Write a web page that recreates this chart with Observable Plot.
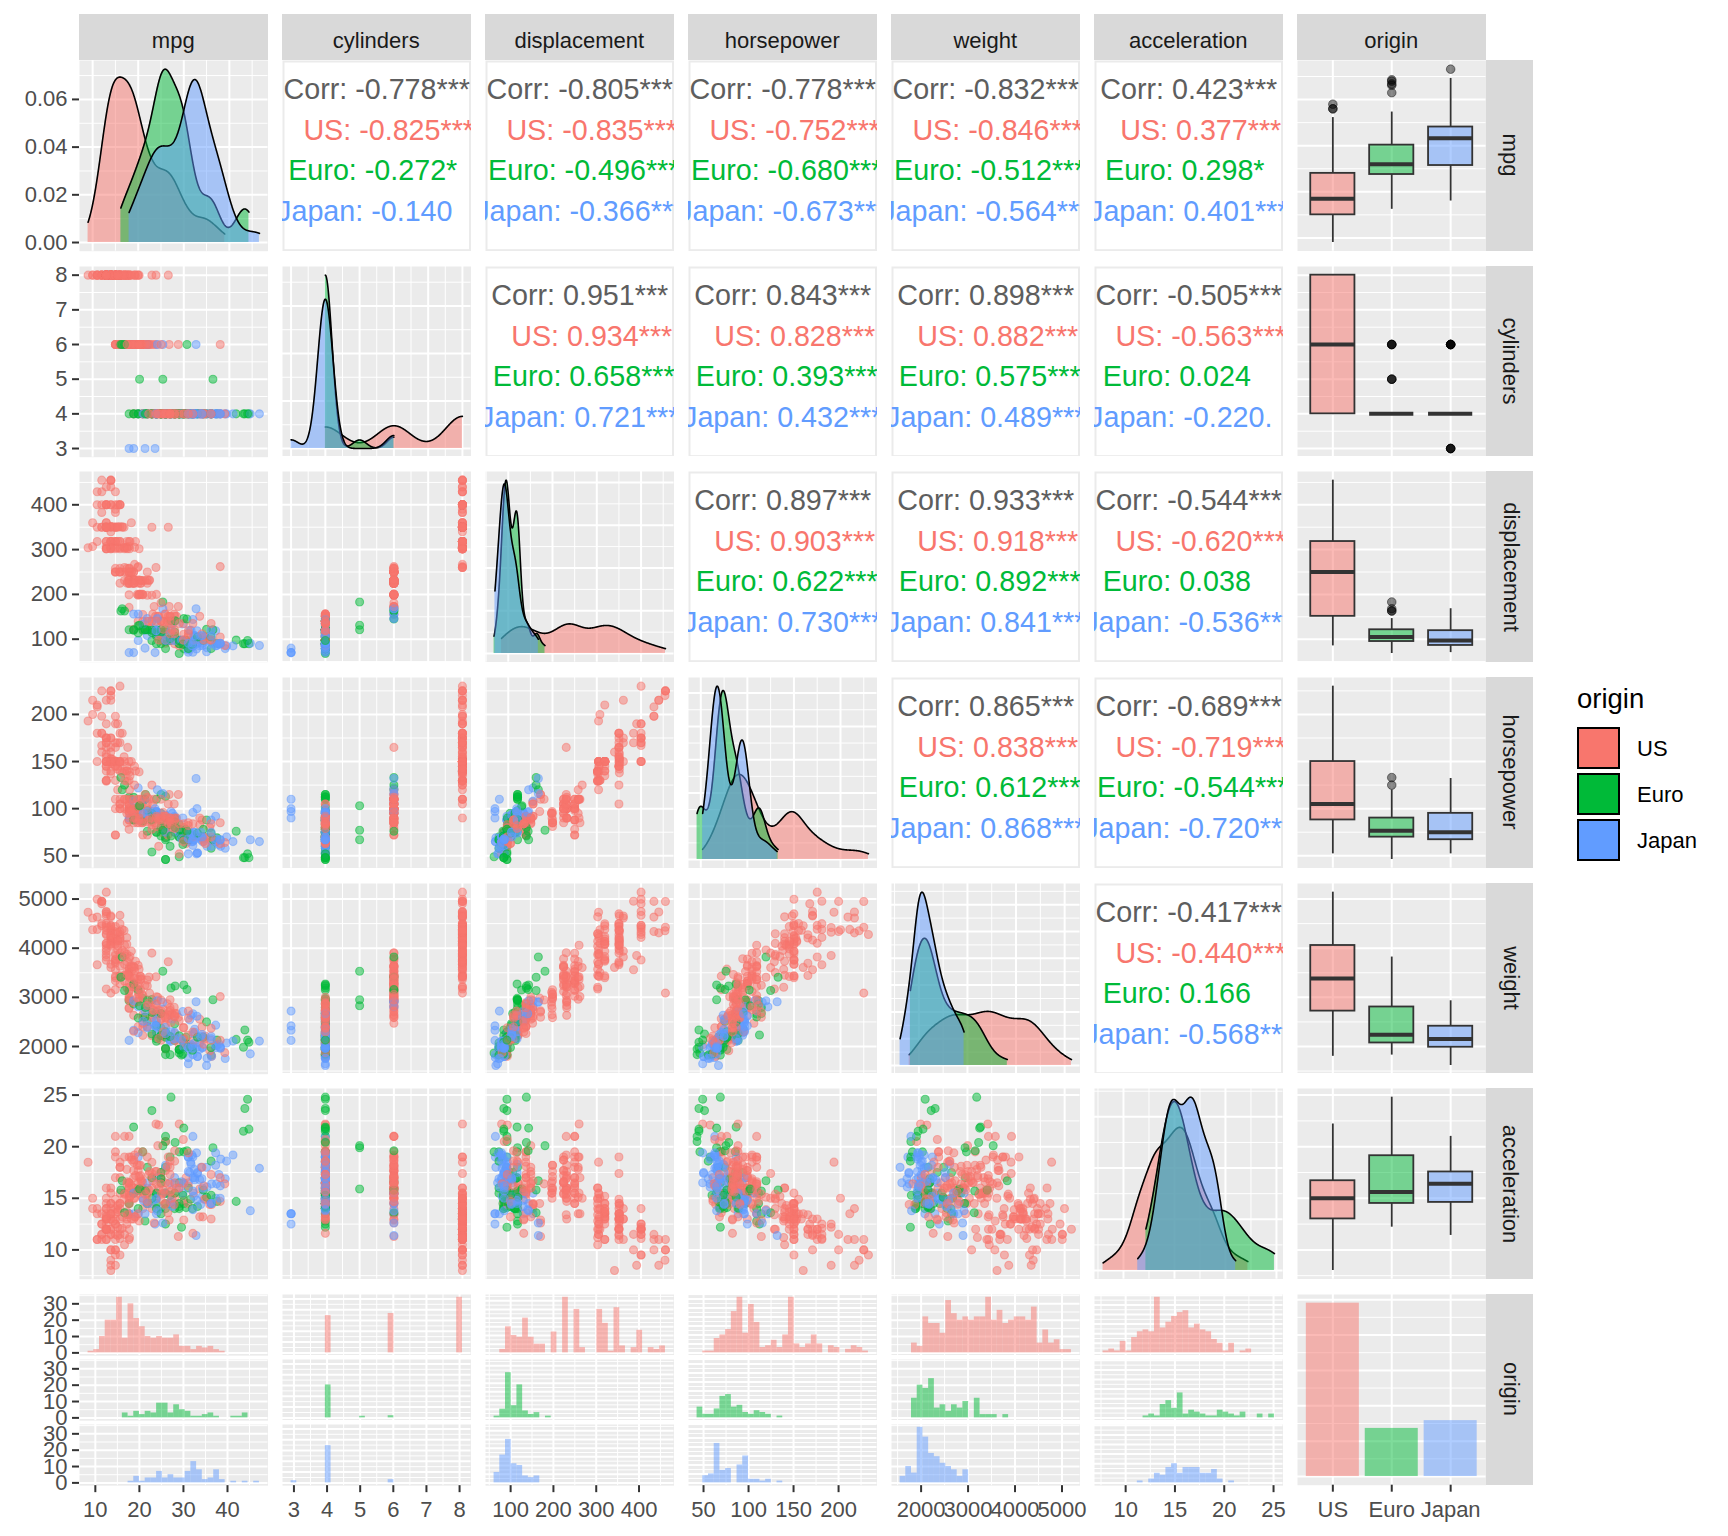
<!DOCTYPE html>
<html><head><meta charset="utf-8">
<script src="https://cdn.jsdelivr.net/npm/d3@7"></script>
<script src="https://cdn.jsdelivr.net/npm/@observablehq/plot@0.6"></script>
<style>
body{margin:0;background:#fff;font-family:'Liberation Sans',Arial,Helvetica,sans-serif;}
#chart{position:relative;width:1728px;height:1536px;overflow:hidden;}
.strip{position:absolute;background:#D9D9D9;color:#1A1A1A;font-size:22px;display:flex;align-items:center;justify-content:center;white-space:nowrap;box-sizing:border-box;}
.hstrip{padding-top:7px;}
.vstrip{padding-left:3px;}
.vstrip span{display:inline-block;transform:rotate(90deg);}
</style></head><body><div id="chart"></div>
<script>
// ---- data: [mpg, cylinders, displacement, horsepower, weight, acceleration, origin(1=US,2=Euro,3=Japan)] ----
const year70 = [[18,8,307,130,3504,12,1],[15,8,350,165,3693,11.5,1],[18,8,318,150,3436,11,1],[16,8,304,150,3433,12,1],[17,8,302,140,3449,10.5,1],[15,8,429,198,4341,10,1],[14,8,454,220,4354,9,1],[14,8,440,215,4312,8.5,1],[14,8,455,225,4425,10,1],[15,8,390,190,3850,8.5,1],[15,8,383,170,3563,10,1],[14,8,340,160,3609,8,1],[15,8,400,150,3761,9.5,1],[14,8,455,225,3086,10,1],[24,4,113,95,2372,15,3],[22,6,198,95,2833,15.5,1],[18,6,199,97,2774,15.5,1],[21,6,200,85,2587,16,1],[27,4,97,88,2130,14.5,3],[26,4,97,46,1835,20.5,2],[25,4,110,87,2672,17.5,2],[24,4,107,90,2430,14.5,2],[25,4,104,95,2375,17.5,2],[26,4,121,113,2234,12.5,2],[21,6,199,90,2648,15,1],[10,8,360,215,4615,14,1],[10,8,307,200,4376,15,1],[11,8,318,210,4382,13.5,1],[9,8,304,193,4732,18.5,1]];
const year71 = [[27,4,97,88,2130,14.5,3],[28,4,140,90,2264,15.5,1],[25,4,113,95,2228,14,3],[19,6,232,100,2634,13,1],[16,6,225,105,3439,15.5,1],[17,6,250,100,3329,15.5,1],[19,6,250,88,3302,15.5,1],[18,6,232,100,3288,15.5,1],[14,8,350,165,4209,12,1],[14,8,400,175,4464,11.5,1],[14,8,351,153,4154,13.5,1],[14,8,318,150,4096,13,1],[12,8,383,180,4955,11.5,1],[13,8,400,170,4746,12,1],[13,8,400,175,5140,12,1],[18,6,258,110,2962,13.5,1],[22,4,140,72,2408,19,1],[19,6,250,100,3282,15,1],[18,6,250,88,3139,14.5,1],[23,4,122,86,2220,14,1],[28,4,116,90,2123,14,2],[30,4,79,70,2074,19.5,2],[30,4,88,76,2065,14.5,2],[31,4,71,65,1773,19,3],[35,4,72,69,1613,18,3],[27,4,97,60,1834,19,2],[26,4,91,70,1955,20.5,1]];
const year72 = [[24,4,113,95,2278,15.5,3],[25,4,97.5,80,2126,17,1],[23,4,97,54,2254,23.5,2],[20,4,140,90,2408,19.5,1],[21,4,122,86,2226,16.5,1],[13,8,350,165,4274,12,1],[14,8,400,175,4385,12,1],[15,8,318,150,4135,13.5,1],[14,8,351,153,4129,13,1],[17,8,304,150,3672,11.5,1],[11,8,429,208,4633,11,1],[13,8,350,155,4502,13.5,1],[12,8,350,160,4456,13.5,1],[13,8,400,190,4422,12.5,1],[19,3,70,97,2330,13.5,3],[15,8,304,150,3892,12.5,1],[13,8,307,130,4098,14,1],[13,8,302,140,4294,16,1],[14,8,318,150,4077,14,1],[18,4,121,112,2933,14.5,2],[22,4,121,76,2511,18,2],[21,4,120,87,2979,19.5,2],[26,4,96,69,2189,18,2],[22,4,122,86,2395,16,1],[28,4,97,92,2288,17,3],[23,4,120,97,2506,14.5,3],[28,4,98,80,2164,15,1],[27,4,97,88,2100,16.5,3]];
const year73 = [[13,8,350,175,4100,13,1],[14,8,304,150,3672,11.5,1],[13,8,350,145,3988,13,1],[14,8,302,137,4042,14.5,1],[15,8,318,150,3777,12.5,1],[12,8,429,198,4952,11.5,1],[13,8,400,150,4464,12,1],[13,8,351,158,4363,13,1],[14,8,318,150,4237,14.5,1],[13,8,440,215,4735,11,1],[12,8,455,225,4951,11,1],[13,8,360,175,3821,11,1],[18,6,225,105,3121,16.5,1],[16,6,250,100,3278,18,1],[18,6,232,100,2945,16,1],[18,6,250,88,3021,16.5,1],[23,6,198,95,2904,16,1],[26,4,97,46,1950,21,2],[11,8,400,150,4997,14,1],[12,8,400,167,4906,12.5,1],[13,8,360,170,4654,13,1],[12,8,350,180,4499,12.5,1],[18,6,232,100,2789,15,1],[20,4,97,88,2279,19,3],[21,4,140,72,2401,19.5,1],[22,4,108,94,2379,16.5,3],[18,3,70,90,2124,13.5,3],[19,4,122,85,2310,18.5,1],[21,6,155,107,2472,14,1],[26,4,98,90,2265,15.5,2],[15,8,350,145,4082,13,1],[16,8,400,230,4278,9.5,1],[29,4,68,49,1867,19.5,2],[24,4,116,75,2158,15.5,2],[20,4,114,91,2582,14,2],[19,4,121,112,2868,15.5,2],[15,8,318,150,3399,11,1],[24,4,121,110,2660,14,2],[20,6,156,122,2807,13.5,3],[11,8,350,180,3664,11,1]];
const year74 = [[20,6,198,95,3102,16.5,1],[19,6,232,100,2901,16,1],[15,6,250,100,3336,17,1],[31,4,79,67,1950,19,3],[26,4,122,80,2451,16.5,1],[32,4,71,65,1836,21,3],[25,4,140,75,2542,17,1],[16,6,250,100,3781,17,1],[16,6,258,110,3632,18,1],[18,6,225,105,3613,16.5,1],[16,8,302,140,4141,14,1],[13,8,350,150,4699,14.5,1],[14,8,318,150,4457,13.5,1],[14,8,302,140,4638,16,1],[14,8,304,150,4257,15.5,1],[29,4,98,83,2219,16.5,2],[26,4,79,67,1963,15.5,2],[26,4,97,78,2300,14.5,2],[31,4,76,52,1649,16.5,3],[32,4,83,61,2003,19,3],[28,4,90,75,2125,14.5,1],[24,4,90,75,2108,15.5,2],[26,4,116,75,2246,14,2],[24,4,120,97,2489,15,3],[26,4,108,93,2391,15.5,3],[31,4,79,67,2000,16,2]];
const year75 = [[19,6,225,95,3264,16,1],[18,6,250,105,3459,16,1],[15,6,250,72,3432,21,1],[15,6,250,72,3158,19.5,1],[16,8,400,170,4668,11.5,1],[15,8,350,145,4440,14,1],[16,8,318,150,4498,14.5,1],[14,8,351,148,4657,13.5,1],[17,6,231,110,3907,21,1],[16,6,250,105,3897,18.5,1],[15,6,258,110,3730,19,1],[18,6,225,95,3785,19,1],[21,6,231,110,3039,15,1],[20,8,262,110,3221,13.5,1],[13,8,302,129,3169,12,1],[29,4,97,75,2171,16,3],[23,4,140,83,2639,17,1],[20,6,232,100,2914,16,1],[23,4,140,78,2592,18.5,1],[24,4,134,96,2702,13.5,3],[25,4,90,71,2223,16.5,2],[24,4,119,97,2545,17,3],[18,6,171,97,2984,14.5,1],[29,4,90,70,1937,14,2],[19,6,232,90,3211,17,1],[23,4,115,95,2694,15,2],[23,4,120,88,2957,17,2],[22,4,121,98,2945,14.5,2],[25,4,121,115,2671,13.5,2],[33,4,91,53,1795,17.5,3]];
const year76 = [[28,4,107,86,2464,15.5,2],[25,4,116,81,2220,16.9,2],[25,4,140,92,2572,14.9,1],[26,4,98,79,2255,17.7,1],[27,4,101,83,2202,15.3,2],[17.5,8,305,140,4215,13,1],[16,8,318,150,4190,13,1],[15.5,8,304,120,3962,13.9,1],[14.5,8,351,152,4215,12.8,1],[22,6,225,100,3233,15.4,1],[22,6,250,105,3353,14.5,1],[24,6,200,81,3012,17.6,1],[22.5,6,232,90,3085,17.6,1],[29,4,85,52,2035,22.2,1],[24.5,4,98,60,2164,22.1,1],[29,4,90,70,1937,14.2,2],[33,4,91,53,1795,17.4,3],[20,6,225,100,3651,17.7,1],[18,6,250,78,3574,21,1],[18.5,6,250,110,3645,16.2,1],[17.5,6,258,95,3193,17.8,1],[29.5,4,97,71,1825,12.2,2],[32,4,85,70,1990,17,3],[28,4,97,75,2155,16.4,3],[26.5,4,140,72,2565,13.6,1],[20,4,130,102,3150,15.7,2],[13,8,318,150,3940,13.2,1],[19,4,120,88,3270,21.9,2],[19,6,156,108,2930,15.5,3],[16.5,6,168,120,3820,16.7,2],[16.5,8,350,180,4380,12.1,1],[13,8,350,145,4055,12,1],[13,8,302,130,3870,15,1],[13,8,318,150,3755,14,1]];
const year77 = [[31.5,4,98,68,2045,18.5,3],[30,4,111,80,2155,14.8,1],[36,4,79,58,1825,18.6,2],[25.5,4,122,96,2300,15.5,1],[33.5,4,85,70,1945,16.8,3],[17.5,8,305,145,3880,12.5,1],[17,8,260,110,4060,19,1],[15.5,8,318,145,4140,13.7,1],[15,8,302,130,4295,14.9,1],[17.5,6,250,110,3520,16.4,1],[20.5,6,231,105,3425,16.9,1],[19,6,225,100,3630,17.7,1],[18.5,6,250,98,3525,19,1],[16,8,400,180,4220,11.1,1],[15.5,8,350,170,4165,11.4,1],[15.5,8,400,190,4325,12.2,1],[16,8,351,149,4335,14.5,1],[29,4,97,78,1940,14.5,2],[24.5,4,151,88,2740,16,1],[26,4,97,75,2265,18.2,3],[25.5,4,140,89,2755,15.8,1],[30.5,4,98,63,2051,17,1],[33.5,4,98,83,2075,15.9,1],[30,4,97,67,1985,16.4,3],[30.5,4,97,78,2190,14.1,2],[22,6,146,97,2815,14.5,3],[21.5,4,121,110,2600,12.8,2],[21.5,3,80,110,2720,13.5,3]];
const year78 = [[43.1,4,90,48,1985,21.5,2],[36.1,4,98,66,1800,14.4,1],[32.8,4,78,52,1985,19.4,3],[39.4,4,85,70,2070,18.6,3],[36.1,4,91,60,1800,16.4,3],[19.9,8,260,110,3365,15.5,1],[19.4,8,318,140,3735,13.2,1],[20.2,8,302,139,3570,12.8,1],[19.2,6,231,105,3535,19.2,1],[20.5,6,200,95,3155,18.2,1],[20.2,6,200,85,2965,15.8,1],[25.1,4,140,88,2720,15.4,1],[20.5,6,225,100,3430,17.2,1],[19.4,6,232,90,3210,17.2,1],[20.6,6,231,105,3380,15.8,1],[20.8,6,200,85,3070,16.7,1],[18.6,6,225,110,3620,18.7,1],[18.1,6,258,120,3410,15.1,1],[19.2,8,305,145,3425,13.2,1],[17.7,6,231,165,3445,13.4,1],[18.1,8,302,139,3205,11.2,1],[17.5,8,318,140,4080,13.7,1],[30,4,98,68,2155,16.5,1],[27.5,4,134,95,2560,14.2,3],[27.2,4,119,97,2300,14.7,3],[30.9,4,105,75,2230,14.5,1],[21.1,4,134,95,2515,14.8,3],[23.2,4,156,105,2745,16.7,1],[23.8,4,151,85,2855,17.6,1],[23.9,4,119,97,2405,14.9,3],[20.3,5,131,103,2830,15.9,2],[17,6,163,125,3140,13.6,2],[21.6,4,121,115,2795,15.7,2],[16.2,6,163,133,3410,15.8,2],[31.5,4,89,71,1990,14.9,2],[29.5,4,98,68,2135,16.6,3]];
const year79 = [[21.5,6,231,115,3245,15.4,1],[19.8,6,200,85,2990,18.2,1],[22.3,4,140,88,2890,17.3,1],[20.2,6,232,90,3265,18.2,1],[20.6,6,225,110,3360,16.6,1],[17,8,305,130,3840,15.4,1],[17.6,8,302,129,3725,13.4,1],[16.5,8,351,138,3955,13.2,1],[18.2,8,318,135,3830,15.2,1],[16.9,8,350,155,4360,14.9,1],[15.5,8,351,142,4054,14.3,1],[19.2,8,267,125,3605,15,1],[18.5,8,360,150,3940,13,1],[31.9,4,89,71,1925,14,2],[34.1,4,86,65,1975,15.2,3],[35.7,4,98,80,1915,14.4,1],[27.4,4,121,80,2670,15,1],[25.4,5,183,77,3530,20.1,2],[23,8,350,125,3900,17.4,1],[27.2,4,141,71,3190,24.8,2],[23.9,8,260,90,3420,22.2,1],[34.2,4,105,70,2200,13.2,1],[34.5,4,105,70,2150,14.9,1],[31.8,4,85,65,2020,19.2,3],[37.3,4,91,69,2130,14.7,2],[28.4,4,151,90,2670,16,1],[28.8,6,173,115,2595,11.3,1],[26.8,6,173,115,2700,12.9,1],[33.5,4,151,90,2556,13.2,1]];
const year80 = [[41.5,4,98,76,2144,14.7,2],[38.1,4,89,60,1968,18.8,3],[32.1,4,98,70,2120,15.5,1],[37.2,4,86,65,2019,16.4,3],[28,4,151,90,2678,16.5,1],[26.4,4,140,88,2870,18.1,1],[24.3,4,151,90,3003,20.1,1],[19.1,6,225,90,3381,18.7,1],[34.3,4,97,78,2188,15.8,2],[29.8,4,134,90,2711,15.5,3],[31.3,4,120,75,2542,17.5,3],[37,4,119,92,2434,15,3],[32.2,4,108,75,2265,15.2,3],[46.6,4,86,65,2110,17.9,3],[27.9,4,156,105,2800,14.4,1],[40.8,4,85,65,2110,19.2,3],[44.3,4,90,48,2085,21.7,2],[43.4,4,90,48,2335,23.7,2],[36.4,5,121,67,2950,19.9,2],[30,4,146,67,3250,21.8,2],[44.6,4,91,67,1850,13.8,3],[33.8,4,97,67,2145,18,3],[29.8,4,89,62,1845,15.3,2],[32.7,6,168,132,2910,11.4,3],[23.7,3,70,100,2420,12.5,3],[35,4,122,88,2500,15.1,2],[32.4,4,107,72,2290,17,3]];
const year81 = [[27.2,4,135,84,2490,15.7,1],[26.6,4,151,84,2635,16.4,1],[25.8,4,156,92,2620,14.4,1],[23.5,6,173,110,2725,12.6,1],[30,4,135,84,2385,12.9,1],[39.1,4,79,58,1755,16.9,3],[39,4,86,64,1875,16.4,1],[35.1,4,81,60,1760,16.1,3],[32.3,4,97,67,2065,17.8,3],[37,4,85,65,1975,19.4,3],[37.7,4,89,62,2050,17.3,3],[34.1,4,91,68,1985,16,3],[34.7,4,105,63,2215,14.9,1],[34.4,4,98,65,2045,16.2,1],[29.9,4,98,65,2380,20.7,1],[33,4,105,74,2190,14.2,2],[33.7,4,107,75,2210,14.4,3],[32.4,4,108,75,2350,16.8,3],[32.9,4,119,100,2615,14.8,3],[31.6,4,120,74,2635,18.3,3],[28.1,4,141,80,3230,20.4,2],[30.7,6,145,76,3160,19.6,2],[25.4,6,168,116,2900,12.6,3],[24.2,6,146,120,2930,13.8,3],[22.4,6,231,110,3415,15.8,1],[26.6,8,350,105,3725,19,1],[20.2,6,200,88,3060,17.1,1],[17.6,6,225,85,3465,16.6,1]];
const year82 = [[28,4,112,88,2605,19.6,1],[27,4,112,88,2640,18.6,1],[34,4,112,88,2395,18,1],[31,4,112,85,2575,16.2,1],[29,4,135,84,2525,16,1],[27,4,151,90,2735,18,1],[24,4,140,92,2865,16.4,1],[36,4,105,74,1980,15.3,2],[37,4,91,68,2025,18.2,3],[31,4,91,68,1970,17.6,3],[38,4,105,63,2125,14.7,1],[36,4,98,70,2125,17.3,1],[36,4,120,88,2160,14.5,3],[36,4,107,75,2205,14.5,3],[34,4,108,70,2245,16.9,3],[38,4,91,67,1965,15,3],[32,4,91,67,1965,15.7,3],[38,4,91,67,1995,16.2,3],[25,6,181,110,2945,16.4,1],[38,6,262,85,3015,17,1],[26,4,156,92,2585,14.5,1],[22,6,232,112,2835,14.7,1],[32,4,144,96,2665,13.9,3],[36,4,135,84,2370,13,1],[27,4,151,90,2950,17.3,1],[27,4,140,86,2790,15.6,1],[44,4,97,52,2130,24.6,2],[32,4,135,84,2295,11.6,1],[28,4,120,79,2625,18.6,1],[31,4,119,82,2720,19.4,1]];

const origins = ["US", "Euro", "Japan"];
const colors = ["#F8766D", "#00BA38", "#619CFF"];
const varNames = ["mpg", "cylinders", "displacement", "horsepower", "weight", "acceleration", "origin"];
const tickMpg = [10, 20, 30, 40];
const tickCylinders = [3, 4, 5, 6, 7, 8];
const tickDisplacement = [100, 200, 300, 400];
const tickHorsepower = [50, 100, 150, 200];
const tickWeight = [2000, 3000, 4000, 5000];
const tickAcceleration = [10, 15, 20, 25];

// correlation texts (upper triangle)
const corrPairs = [[0,1],[0,2],[0,3],[0,4],[0,5],[1,2],[1,3],[1,4],[1,5],[2,3],[2,4],[2,5],[3,4],[3,5],[4,5]];
const corrAll   = ["-0.778***","-0.805***","-0.778***","-0.832***","0.423***","0.951***","0.843***","0.898***","-0.505***","0.897***","0.933***","-0.544***","0.865***","-0.689***","-0.417***"];
const corrUS    = ["-0.825***","-0.835***","-0.752***","-0.846***","0.377***","0.934***","0.828***","0.882***","-0.563***","0.903***","0.918***","-0.620***","0.838***","-0.719***","-0.440***"];
const corrEuro  = ["-0.272*","-0.496***","-0.680***","-0.512***","0.298*","0.658***","0.393***","0.575***","0.024","0.622***","0.892***","0.038","0.612***","-0.544***","0.166"];
const corrJapan = ["-0.140","-0.366***","-0.673***","-0.564***","0.401***","0.721***","0.432***","0.489***","-0.220.","0.730***","0.841***","-0.536***","0.868***","-0.720***","-0.568***"];

// ---- derived ----
const cars = [...year70, ...year71, ...year72, ...year73, ...year74, ...year75, ...year76, ...year77, ...year78, ...year79, ...year80, ...year81, ...year82];
const columns = [0,1,2,3,4,5].map(c => cars.map(d => d[c]));
const origin = cars.map(d => origins[d[6] - 1]);
const table = cars.map((d, k) => ({org: origin[k], g: d[6] - 1, v: d.slice(0, 6)}));
const majorTicks = [tickMpg, tickCylinders, tickDisplacement, tickHorsepower, tickWeight, tickAcceleration];

const ext = columns.map(c => d3.extent(c));
const dom = ext.map(([a, b]) => [a - 0.05 * (b - a), b + 0.05 * (b - a)]);
function within(t, [lo, hi]) { return t.filter(v => v >= lo && v <= hi); }
function minorOf(t, [lo, hi]) {
  if (t.length < 2) return [];
  const s = t[1] - t[0], b = [t[0] - s, ...t, t[t.length - 1] + s], m = [];
  for (let k = 0; k < b.length - 1; k++) { const v = (b[k] + b[k + 1]) / 2; if (v >= lo && v <= hi) m.push(v); }
  return m;
}
const groupVals = (c) => [0,1,2].map(g => table.filter(d => d.g === g).map(d => d.v[c]));

function bwNrd0(x) {
  const s = x.slice().sort(d3.ascending), n = s.length;
  const hi = d3.deviation(s);
  const iqr = d3.quantileSorted(s, 0.75) - d3.quantileSorted(s, 0.25);
  let lo = Math.min(hi, iqr / 1.34);
  if (!(lo > 0)) lo = hi || Math.abs(s[0]) || 1;
  return 0.9 * lo * Math.pow(n, -0.2);
}
function kde(x) {
  const bw = bwNrd0(x), [a, b] = d3.extent(x), n = x.length, out = [];
  for (let k = 0; k < 512; k++) {
    const t = a + (b - a) * k / 511;
    let s = 0;
    for (const v of x) { const z = (t - v) / bw; s += Math.exp(-0.5 * z * z); }
    out.push({x: t, y: s / (n * bw * Math.sqrt(2 * Math.PI))});
  }
  return out;
}

// ---- layout ----
const chart = document.getElementById("chart");
const G = {x0: 79, cs: 203, pw: 188.5, y0: 60, rs: 205.67, ph: 190.7, axL: 79, axB: 50, gap: 3.6, majW: 2, minW: 1};
const FONT = "'Liberation Sans', Arial, Helvetica, sans-serif";
const colLeft = j => G.x0 + j * G.cs;
const rowTop = i => G.y0 + i * G.rs;

function cell({left, top, w = G.pw, h = G.ph, xdom, ydom, xMaj = [], xMin = [], yMaj = [], yMin = [], marks = [], yAxis, xAxis, bg = "#EBEBEB", border = "none", colorOpt}) {
  const ml = yAxis ? G.axL : 0, mb = xAxis ? G.axB : 0;
  const m = [Plot.frame({fill: bg, stroke: border, strokeWidth: 2, inset: border === "none" ? 0 : 1})];
  if (xMin.length) m.push(Plot.ruleX(xMin, {stroke: "#fff", strokeWidth: G.minW}));
  if (yMin.length) m.push(Plot.ruleY(yMin, {stroke: "#fff", strokeWidth: G.minW}));
  if (xMaj.length) m.push(Plot.ruleX(xMaj, {stroke: "#fff", strokeWidth: G.majW}));
  if (yMaj.length) m.push(Plot.ruleY(yMaj, {stroke: "#fff", strokeWidth: G.majW}));
  m.push(...marks);
  const ax = {tickSize: 7, strokeWidth: 2, stroke: "#333333", color: "#4D4D4D", fontSize: 22, label: null};
  if (yAxis) m.push(Plot.axisY(yAxis.ticks, {...ax, anchor: "left", tickPadding: 5, tickFormat: yAxis.format || (d => String(d))}));
  if (xAxis) m.push(Plot.axisX(xAxis.ticks, {...ax, anchor: "bottom", tickPadding: 9, tickFormat: xAxis.format || (d => String(d))}));
  const svg = Plot.plot({
    width: w + ml, height: h + mb, marginLeft: ml, marginBottom: mb, marginTop: 0, marginRight: 0,
    x: xAxis ? {domain: xdom} : {domain: xdom, axis: null},
    y: yAxis ? {domain: ydom} : {domain: ydom, axis: null},
    color: colorOpt || {domain: origins, range: colors},
    style: {fontFamily: FONT, fontSize: "22px", background: "transparent", color: "#4D4D4D", overflow: (xAxis || yAxis) ? "visible" : "hidden"},
    marks: m
  });
  svg.style.position = "absolute";
  svg.style.left = (left - ml) + "px";
  svg.style.top = top + "px";
  svg.style.maxWidth = "none";
  chart.appendChild(svg);
}
const dTicks = ([lo, hi]) => d3.ticks(lo, hi, 5);

// ---- diagonal densities ----
for (let j = 0; j < 6; j++) {
  const dens = groupVals(j).map(kde);
  const M = d3.max(dens.flat(), d => d.y);
  const ydom = [-0.05 * M, 1.05 * M];
  const yt = dTicks(ydom);
  const marks = [];
  dens.forEach((d, g) => {
    marks.push(Plot.areaY(d, {x: "x", y: "y", fill: colors[g], fillOpacity: 0.5}));
    marks.push(Plot.lineY(d, {x: "x", y: "y", stroke: "black", strokeWidth: 1.6}));
  });
  cell({left: colLeft(j), top: rowTop(j), xdom: dom[j], ydom,
    xMaj: within(majorTicks[j], dom[j]), xMin: minorOf(majorTicks[j], dom[j]),
    yMaj: within(yt, ydom), yMin: minorOf(yt, ydom), marks,
    yAxis: j === 0 ? {ticks: within(yt, ydom), format: d3.format(".2f")} : null});
}

// ---- scatter plots (lower triangle) ----
for (let i = 1; i < 6; i++) for (let j = 0; j < i; j++) {
  cell({left: colLeft(j), top: rowTop(i), xdom: dom[j], ydom: dom[i],
    xMaj: within(majorTicks[j], dom[j]), xMin: minorOf(majorTicks[j], dom[j]),
    yMaj: within(majorTicks[i], dom[i]), yMin: minorOf(majorTicks[i], dom[i]),
    marks: [Plot.dot(table, {x: d => d.v[j], y: d => d.v[i], fill: "org", stroke: "org", r: 4, fillOpacity: 0.5, strokeOpacity: 0.5, strokeWidth: 1.1})],
    yAxis: j === 0 ? {ticks: within(majorTicks[i], dom[i])} : null});
}

// ---- correlation panels (upper triangle) ----
const nb = "\u00A0";
corrPairs.forEach(([i, j], k) => {
  const vals = [corrUS[k], corrEuro[k], corrJapan[k]];
  const wv = d3.max(vals, v => v.length), wl = d3.max(origins, o => o.length);
  const lines = [{k: 0, t: "Corr: " + corrAll[k], c: "#5E5E5E"}];
  vals.forEach((v, g) => lines.push({k: g + 1, t: nb.repeat(wl - origins[g].length) + origins[g] + ":" + nb + v + nb.repeat(wv - v.length), c: colors[g]}));
  cell({left: colLeft(j), top: rowTop(i), xdom: [0, 1], ydom: [(G.ph - 29.8) / 40.4, -29.8 / 40.4],
    bg: "#FFFFFF", border: "#EBEBEB", colorOpt: {type: "identity"},
    marks: [Plot.text(lines, {x: 0.5, y: "k", text: "t", fill: "c", fontSize: 28.7})]});
});

// ---- boxplots (right column) ----
for (let i = 0; i < 6; i++) {
  const stats = [], outl = [];
  groupVals(i).forEach((vals, g) => {
    const s = vals.slice().sort(d3.ascending);
    const q1 = d3.quantileSorted(s, 0.25), q2 = d3.quantileSorted(s, 0.5), q3 = d3.quantileSorted(s, 0.75), r = q3 - q1;
    const inside = s.filter(v => v >= q1 - 1.5 * r && v <= q3 + 1.5 * r);
    stats.push({p: g + 1, org: origins[g], q1, q2, q3, lo: d3.min(inside), hi: d3.max(inside)});
    s.filter(v => v < q1 - 1.5 * r || v > q3 + 1.5 * r).forEach(v => outl.push({p: g + 1, v}));
  });
  cell({left: colLeft(6), top: rowTop(i), xdom: [0.4, 3.6], ydom: dom[i],
    xMaj: [1, 2, 3], yMaj: within(majorTicks[i], dom[i]), yMin: minorOf(majorTicks[i], dom[i]),
    marks: [
      Plot.dot(outl, {x: "p", y: "v", r: 4.3, fill: "#000", fillOpacity: 0.45, stroke: "#000", strokeOpacity: 0.45, strokeWidth: 1}),
      Plot.ruleX(stats, {x: "p", y1: "lo", y2: "q1", stroke: "#333333", strokeWidth: 1.8}),
      Plot.ruleX(stats, {x: "p", y1: "q3", y2: "hi", stroke: "#333333", strokeWidth: 1.8}),
      Plot.rect(stats, {x1: d => d.p - 0.375, x2: d => d.p + 0.375, y1: "q1", y2: "q3", fill: "org", fillOpacity: 0.5, stroke: "#333333", strokeWidth: 1.8}),
      Plot.ruleY(stats, {y: "q2", x1: d => d.p - 0.375, x2: d => d.p + 0.375, stroke: "#333333", strokeWidth: 4})
    ]});
}

// ---- faceted histograms (bottom row) ----
const FH = (G.ph - 2 * G.gap) / 3;
for (let j = 0; j < 6; j++) {
  const [a, b] = ext[j], w = (b - a) / 29;
  const edges = d3.range(31).map(k => a - w / 2 + k * w);
  const r = edges[30] - edges[0], hdom = [edges[0] - 0.05 * r, edges[30] + 0.05 * r];
  const bins = groupVals(j).map((vals, g) => {
    const cnt = new Array(30).fill(0);
    for (const v of vals) cnt[Math.max(0, Math.min(29, Math.floor((v - edges[0]) / w)))]++;
    return cnt.map((n, k) => ({x1: edges[k], x2: edges[k + 1], n, org: origins[g]})).filter(d => d.n > 0);
  });
  const M = d3.max(bins.flat(), d => d.n), ydom = [-0.05 * M, 1.05 * M], yt = dTicks(ydom);
  const xt = within(majorTicks[j], hdom);
  bins.forEach((bb, g) => {
    cell({left: colLeft(j), top: rowTop(6) + g * (FH + G.gap), h: FH, xdom: hdom, ydom,
      xMaj: xt, xMin: minorOf(majorTicks[j], hdom), yMaj: within(yt, ydom), yMin: minorOf(yt, ydom),
      marks: [Plot.rect(bb, {x1: "x1", x2: "x2", y1: 0, y2: "n", fill: "org", fillOpacity: 0.5})],
      yAxis: j === 0 ? {ticks: within(yt, ydom)} : null,
      xAxis: g === 2 ? {ticks: xt} : null});
  });
}

// ---- bar chart (bottom right) ----
{
  const counts = origins.map((o, g) => ({p: g + 1, org: o, n: table.filter(d => d.g === g).length}));
  const M = d3.max(counts, d => d.n), ydom = [-0.05 * M, 1.05 * M], yt = dTicks(ydom);
  cell({left: colLeft(6), top: rowTop(6), xdom: [0.4, 3.6], ydom,
    xMaj: [1, 2, 3], yMaj: within(yt, ydom), yMin: minorOf(yt, ydom),
    marks: [Plot.rect(counts, {x1: d => d.p - 0.45, x2: d => d.p + 0.45, y1: 0, y2: "n", fill: "org", fillOpacity: 0.5})],
    xAxis: {ticks: [1, 2, 3], format: d => origins[d - 1]}});
}

// ---- strips ----
varNames.forEach((v, j) => {
  const d = document.createElement("div");
  d.className = "strip hstrip";
  Object.assign(d.style, {left: colLeft(j) + "px", top: "14px", width: G.pw + "px", height: "46px"});
  d.textContent = v;
  chart.appendChild(d);
  const r = document.createElement("div");
  r.className = "strip vstrip";
  Object.assign(r.style, {left: (colLeft(6) + G.pw) + "px", top: rowTop(j) + "px", width: "47px", height: G.ph + "px"});
  r.innerHTML = "<span>" + v + "</span>";
  chart.appendChild(r);
});

// ---- legend ----
{
  const ns = "http://www.w3.org/2000/svg";
  const svg = document.createElementNS(ns, "svg");
  svg.setAttribute("width", 168); svg.setAttribute("height", 210);
  Object.assign(svg.style, {position: "absolute", left: "1560px", top: "670px", fontFamily: FONT});
  let html = `<text x="17" y="38" font-size="27.5" fill="#000">origin</text>`;
  origins.forEach((o, g) => {
    html += `<rect x="18" y="${58 + g * 46}" width="41" height="40" fill="${colors[g]}" stroke="#000" stroke-width="2"/>`;
    html += `<text x="77" y="${86 + g * 46}" font-size="22" fill="#000">${o}</text>`;
  });
  svg.innerHTML = html;
  chart.appendChild(svg);
}
</script></body></html>
